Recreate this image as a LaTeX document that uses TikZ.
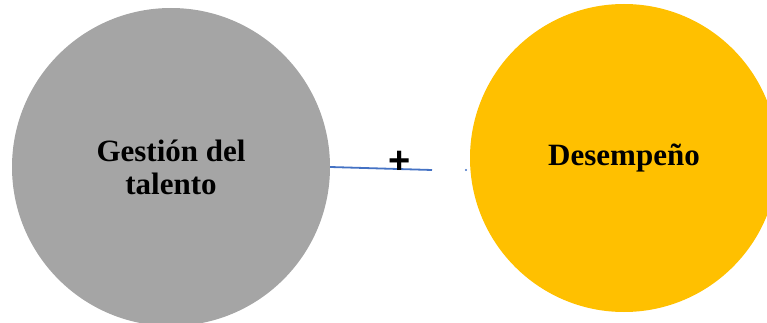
\documentclass[tikz,border=0pt]{standalone}
\usepackage{fontspec}
\setmainfont{Liberation Serif}
\newfontfamily\plusfont{Liberation Sans}
\definecolor{talentgray}{HTML}{A5A5A5}
\definecolor{perfgold}{HTML}{FFC000}
\definecolor{linkblue}{HTML}{4472C4}
\begin{document}
\begin{tikzpicture}[x=1pt,y=-1pt,
  bubble/.style={circle,inner sep=0pt,align=center,font=\bfseries\fontsize{31}{33}\selectfont},
  link/.style={draw=linkblue,line width=1.8pt}]
  \useasboundingbox (0,0) rectangle (767,323);
  \begin{scope}
    \clip (0,0) rectangle (767,323);
    \node[bubble,fill=talentgray,minimum size=318pt] (gest) at (171,167) {Gestión del\\talento};
    \node[bubble,fill=perfgold,minimum size=308pt] (desem) at (624,158) {};
  \end{scope}
  \node[font=\bfseries\fontsize{31}{32}\selectfont] (desemtxt) at (desem.center) {Desempeño};
  \coordinate (linkend) at (432,170);
  \draw[link] (gest.east) -- (linkend);
  \node[circle,fill=linkblue,inner sep=0pt,minimum size=2.4pt] (linkdot) at (466,170) {};
  \node[font=\plusfont\bfseries\fontsize{38}{38}\selectfont,inner sep=0pt] (plus) at (400,162) {+};
\end{tikzpicture}
\end{document}
